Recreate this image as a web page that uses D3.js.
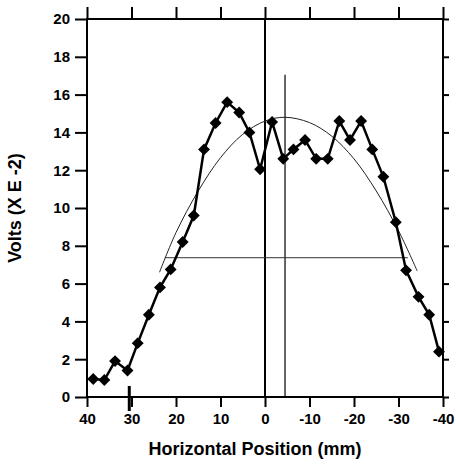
<!DOCTYPE html>
<html><head><meta charset="utf-8">
<script src="https://cdn.jsdelivr.net/npm/d3@7"></script>
<style>body{margin:0;background:#fff}text{font-family:"Liberation Sans",Arial,sans-serif;font-weight:bold}</style>
</head><body><div id="chart"></div>
<script>
// measured profile
const posMm = [38.6,36.1,33.7,30.9,28.6,26.1,23.6,21.2,18.5,16,13.7,11.1,8.5,5.8,3.5,1.1,-1.6,-4.1,-6.4,-9,-11.5,-14.1,-16.7,-19.1,-21.6,-24.1,-26.6,-29.4,-31.7,-34.5,-36.9,-39.1];
const volts = [0.95,0.9,1.9,1.4,2.85,4.35,5.8,6.75,8.2,9.6,13.1,14.5,15.6,15.05,14.0,12.05,14.55,12.6,13.1,13.6,12.6,12.6,14.6,13.6,14.6,13.1,11.65,9.25,6.7,5.3,4.35,2.4];
// fitted curve
const fitMm = [23.7,20,15,10,5,0,-4.5,-10,-15,-20,-25,-30,-34.2];
const fitV = [6.6,8.7,10.9,12.66,13.9,14.6,14.8,14.52,13.8,12.6,10.9,8.8,6.67];
const halfMax = 7.37, halfFrom = 22.5, halfTo = -32.1;
const centreMm = -4.5, centreTop = 17.05;
const xTicks = [40,30,20,10,0,-10,-20,-30,-40];
const yTicks = [0,2,4,6,8,10,12,14,16,18,20];

const margin = {top: 19, right: 13, bottom: 75, left: 87},
    width = 456 - margin.left - margin.right,
    height = 472 - margin.top - margin.bottom;

const svg = d3.select("#chart").append("svg")
    .attr("width", 456).attr("height", 472)
    .append("g")
    .attr("transform", `translate(${margin.left},${margin.top})`);

const x = d3.scaleLinear().domain([40, -40]).range([0, width]);
const y = d3.scaleLinear().domain([0, 20]).range([height, 0]);

// frame
svg.append("rect").attr("width", width).attr("height", height)
    .attr("fill", "none").attr("stroke", "#000").attr("stroke-width", 2);

const fmt = d => d < 0 ? "-" + Math.abs(d) : d;
const xb = svg.append("g").attr("transform", `translate(0,${height})`)
    .call(d3.axisBottom(x).tickValues(xTicks).tickSize(10).tickPadding(6).tickFormat(fmt));
const xt = svg.append("g").call(d3.axisTop(x).tickValues(xTicks).tickSize(12).tickFormat(""));
const yl = svg.append("g").call(d3.axisLeft(y).tickValues(yTicks).tickSize(12).tickPadding(5));
const yr = svg.append("g").attr("transform", `translate(${width},0)`)
    .call(d3.axisRight(y).tickValues(yTicks).tickSize(6).tickFormat(""));
[xb, xt, yl, yr].forEach(g => {
  g.select(".domain").remove();
  g.selectAll("line").attr("stroke-width", 2);
  g.selectAll("text").style("font-size", "15px").attr("fill", "#000");
});

// guide lines
svg.append("line").attr("x1", x(0)).attr("x2", x(0)).attr("y1", 0).attr("y2", height)
    .attr("stroke", "#000").attr("stroke-width", 2);
svg.append("line").attr("x1", x(centreMm)).attr("x2", x(centreMm)).attr("y1", y(centreTop)).attr("y2", height)
    .attr("stroke", "#000").attr("stroke-width", 1.2);
svg.append("line").attr("x1", x(halfFrom)).attr("x2", x(halfTo)).attr("y1", y(halfMax)).attr("y2", y(halfMax))
    .attr("stroke", "#333").attr("stroke-width", 1);
// small marker on the axis
svg.append("line").attr("x1", x(30.5)).attr("x2", x(30.5)).attr("y1", height - 11).attr("y2", height + 14)
    .attr("stroke", "#000").attr("stroke-width", 3);

// fit
svg.append("path").datum(fitMm.map((d, i) => [d, fitV[i]]))
    .attr("fill", "none").attr("stroke", "#222").attr("stroke-width", 1)
    .attr("d", d3.line().x(d => x(d[0])).y(d => y(d[1])).curve(d3.curveCatmullRom));

// data
const pts = posMm.map((d, i) => [d, volts[i]]);
svg.append("path").datum(pts)
    .attr("fill", "none").attr("stroke", "#000").attr("stroke-width", 2.5)
    .attr("d", d3.line().x(d => x(d[0])).y(d => y(d[1])));
svg.selectAll(".pt").data(pts).enter().append("path")
    .attr("transform", d => `translate(${x(d[0])},${y(d[1])})`)
    .attr("d", d3.symbol(d3.symbolDiamond2, 90)).attr("fill", "#000");

svg.append("text").attr("x", width / 2 - 10).attr("y", height + 58)
    .attr("text-anchor", "middle").style("font-size", "18px").text("Horizontal Position (mm)");
svg.append("text").attr("transform", `translate(-66,${height / 2}) rotate(-90)`)
    .attr("text-anchor", "middle").style("font-size", "18px").text("Volts (X E -2)");
</script></body></html>
